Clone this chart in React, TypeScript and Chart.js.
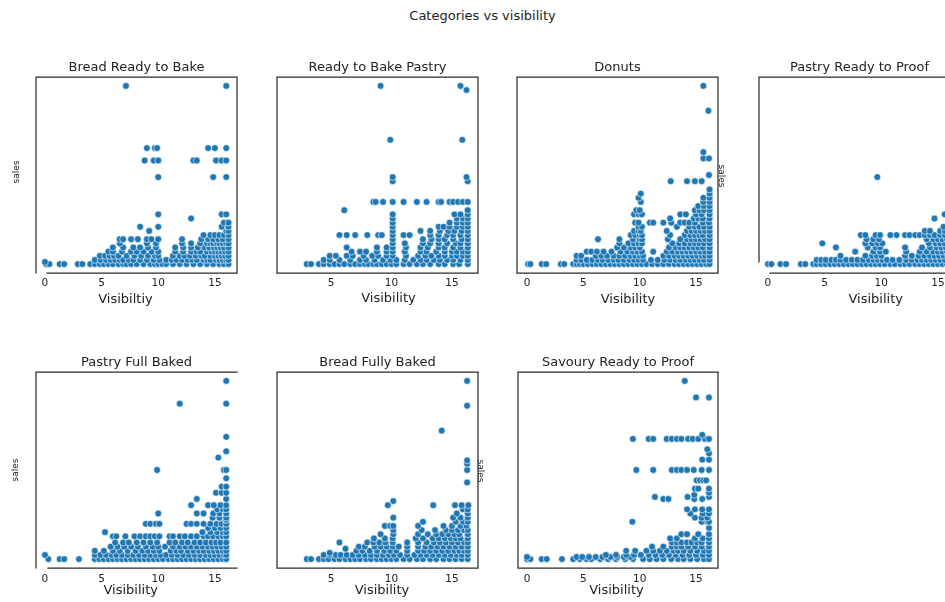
import { useEffect, useRef } from "react";
import { Chart, registerables } from "chart.js";
import type { Plugin } from "chart.js";

Chart.register(...registerables);

// Each row: [sales, visibility values recorded at that sales level]
type Row = [number, number[]];

const figureTitle = "Categories vs visibility";
const categories = [
  "Bread Ready to Bake",
  "Ready to Bake Pastry",
  "Donuts",
  "Pastry Ready to Proof",
  "Pastry Full Baked",
  "Bread Fully Baked",
  "Savoury Ready to Proof",
];
const xAxisTitles = ["Visibiltiy", "Visibility", "Visibility", "Visibility", "Visibility", "Visibility", "Visibility"];
const yAxisTitle = "sales";
const visibilityTicks = [0, 5, 10, 15];
const salesRange = [-1.15, 46.15];

const breadReadyToBake: Row[] = [
  [1, [0.1, 0.4, 1.3, 1.7, 2.9, 3.3, 4.0, 4.4, 4.85, 5.2, 5.6, 6.0, 6.5, 6.9, 7.2, 7.6, 8.1, 8.7, 9.3, 9.7, 10.0, 10.35, 10.7, 11.3, 11.9, 12.5, 13.1, 13.7, 14.3, 14.85, 15.4, 15.8, 16.2]],
  [1.5, [0.0]],
  [2, [4.4, 4.9, 5.4, 5.8, 6.2, 6.6, 6.9, 7.4, 7.8, 8.4, 9.0, 9.6, 10.1, 10.7, 11.2, 11.6, 12.1, 12.6, 13.0, 13.4, 14.0, 14.3, 14.6, 15.1, 15.4, 15.7, 16.0, 16.2]],
  [3, [4.85, 5.3, 5.7, 6.1, 6.5, 7.2, 7.9, 8.5, 9.1, 9.7, 10.0, 11.3, 11.9, 12.3, 12.8, 13.3, 13.8, 14.1, 14.6, 15.0, 15.3, 15.6, 15.9, 16.2]],
  [4, [5.6, 6.0, 6.8, 7.6, 8.1, 8.7, 9.4, 10.0, 11.5, 12.2, 12.9, 13.4, 13.7, 14.3, 14.7, 15.0, 15.3, 15.6, 15.9, 16.2]],
  [5, [6.0, 6.9, 7.8, 8.4, 9.1, 9.8, 11.5, 12.2, 12.9, 13.5, 14.1, 14.5, 14.9, 15.2, 15.5, 15.8, 16.2]],
  [6, [6.6, 9.0, 9.8, 12.1, 12.9, 13.7, 14.3, 14.6, 14.85, 15.2, 15.4, 15.7, 16.0, 16.2]],
  [7, [6.6, 6.9, 7.6, 8.2, 9.0, 9.4, 10.0, 12.1, 13.8, 14.4, 14.85, 15.3, 15.7, 16.2]],
  [8, [14.0, 14.6, 15.0, 15.4, 15.8, 16.2]],
  [9, [9.2, 16.0, 16.2]],
  [10, [8.4, 10.0, 15.6, 16.2]],
  [11, [15.8, 16.2]],
  [12, [12.9]],
  [13, [10.0, 15.6, 16.0]],
  [22, [10.0, 14.85, 16.0]],
  [26, [8.8, 9.6, 10.0, 13.1, 13.4, 15.1, 15.6, 16.0]],
  [29, [9.0, 9.7, 9.9, 14.4, 15.0, 16.0]],
  [44, [7.15, 16.0]],
];

const readyToBakePastry: Row[] = [
  [1, [3.0, 3.35, 4.0, 4.4, 4.9, 5.3, 5.7, 6.1, 6.6, 7.0, 7.4, 7.8, 8.1, 8.5, 8.8, 9.2, 9.6, 10.0, 10.4, 11.0, 11.5, 12.1, 12.6, 13.2, 13.9, 14.4, 15.1, 15.6, 16.3]],
  [2, [4.4, 4.9, 5.7, 6.6, 7.4, 7.9, 8.6, 9.3, 9.9, 10.4, 11.1, 11.8, 12.4, 12.9, 13.5, 14.0, 14.6, 15.1, 15.7, 16.3]],
  [3, [4.9, 5.4, 6.3, 6.8, 7.7, 8.4, 8.9, 9.6, 10.1, 11.2, 12.2, 12.8, 13.3, 13.9, 14.4, 15.0, 15.4, 15.9, 16.3]],
  [4, [6.7, 7.4, 7.9, 8.8, 9.6, 10.1, 11.1, 12.4, 12.9, 13.7, 14.4, 15.0, 15.4, 15.9, 16.3]],
  [5, [6.3, 8.8, 9.6, 10.1, 11.2, 12.4, 13.0, 13.9, 14.4, 15.1, 15.7, 16.3]],
  [6, [10.1, 11.1, 12.6, 13.2, 13.9, 14.6, 15.3, 15.7, 16.3]],
  [7, [10.1, 12.6, 13.3, 13.9, 14.4, 15.1, 15.8, 16.3]],
  [8, [5.7, 6.3, 7.0, 8.0, 8.9, 9.2, 10.1, 11.0, 11.5, 13.2, 13.9, 14.6, 15.1, 15.7, 16.3]],
  [9, [10.1, 12.4, 13.2, 14.0, 14.7, 15.2, 15.8, 16.3]],
  [10, [10.1, 13.9, 14.3, 14.8, 15.4, 15.9, 16.3]],
  [11, [10.1, 14.8, 15.4, 15.9, 16.3]],
  [12, [10.1, 15.4, 15.9, 16.3]],
  [13, [10.1, 15.2, 15.7, 16.3]],
  [14, [6.1, 16.3]],
  [16, [8.5, 8.7, 9.3, 10.1, 11.0, 12.1, 12.9, 13.9, 14.1, 14.8, 15.1, 15.5, 15.9, 16.3]],
  [21, [10.1, 16.3]],
  [22, [10.1, 16.2]],
  [31, [9.9, 15.85]],
  [43, [16.2]],
  [44, [9.1, 15.7]],
];

const donuts: Row[] = [
  [1, [0.1, 0.3, 1.3, 1.7, 3.0, 3.3, 4.1, 4.4, 4.7, 5.0, 5.4, 5.8, 6.2, 6.6, 7.0, 7.4, 7.8, 8.2, 8.6, 9.0, 9.4, 9.8, 10.2, 10.6, 11.1, 11.6, 12.1, 12.6, 13.1, 13.5, 13.9, 14.3, 14.7, 15.1, 15.5, 15.9, 16.2]],
  [2, [4.4, 4.8, 5.3, 5.8, 6.3, 6.7, 7.2, 7.7, 8.1, 8.6, 9.1, 9.5, 9.9, 10.3, 11.0, 11.6, 12.2, 12.7, 13.2, 13.6, 14.1, 14.5, 14.9, 15.3, 15.7, 16.2]],
  [3, [4.4, 4.8, 6.1, 6.6, 7.1, 7.7, 8.2, 8.7, 9.2, 9.6, 10.0, 10.3, 12.1, 12.6, 13.1, 13.5, 13.9, 14.3, 14.7, 15.1, 15.5, 15.8, 16.2]],
  [4, [5.3, 5.7, 6.2, 6.8, 7.5, 8.3, 8.9, 9.4, 9.8, 10.2, 11.2, 12.4, 12.9, 13.4, 13.8, 14.2, 14.6, 15.0, 15.4, 15.8, 16.2]],
  [5, [8.0, 8.6, 9.2, 9.6, 10.0, 12.6, 13.2, 13.6, 14.0, 14.4, 14.8, 15.2, 15.6, 16.2]],
  [6, [8.2, 9.0, 9.5, 9.9, 10.2, 12.9, 13.5, 14.0, 14.5, 14.9, 15.3, 15.7, 16.2]],
  [7, [6.3, 8.2, 9.4, 10.0, 10.2, 12.5, 13.6, 14.2, 14.6, 15.0, 15.4, 15.8, 16.2]],
  [8, [9.2, 9.6, 10.0, 10.2, 12.7, 14.0, 14.5, 14.9, 15.3, 15.6, 16.2]],
  [9, [9.5, 9.9, 10.1, 12.4, 14.2, 14.6, 15.0, 15.4, 15.8, 16.2]],
  [10, [9.9, 10.2, 13.3, 14.4, 14.9, 15.3, 15.7, 16.2]],
  [11, [9.6, 9.9, 10.9, 11.2, 12.1, 12.8, 13.6, 14.0, 14.4, 14.9, 15.6, 16.15]],
  [12, [12.7, 14.8, 15.2, 15.6, 16.2]],
  [13, [9.5, 9.9, 10.2, 13.6, 14.1, 15.0, 15.5, 16.2]],
  [14, [9.7, 10.0, 14.9, 15.3, 15.7, 16.2]],
  [15, [15.2, 15.7, 16.2]],
  [16, [10.1, 15.65, 16.2]],
  [17, [9.9, 15.65, 16.2]],
  [18, [10.1, 16.2]],
  [19, [16.2]],
  [21, [12.75, 14.2, 14.9, 15.5]],
  [22.5, [16.15]],
  [26.5, [15.65, 16.15]],
  [28, [15.65]],
  [38, [16.1]],
  [44, [15.65]],
];

const pastryReadyToProof: Row[] = [
  [1, [0.0, 0.3, 1.1, 1.6, 2.9, 3.3, 4.0, 4.3, 4.7, 5.1, 5.5, 5.9, 6.3, 6.7, 7.1, 7.5, 7.9, 8.3, 8.7, 9.1, 9.5, 9.9, 10.3, 10.8, 11.2, 11.7, 12.1, 12.5, 13.0, 13.4, 13.8, 14.2, 14.6, 15.0, 15.4, 15.8, 16.2]],
  [2, [4.3, 4.7, 5.1, 5.6, 6.0, 6.4, 6.9, 7.4, 7.9, 8.4, 8.9, 9.3, 9.7, 10.1, 10.5, 11.0, 11.6, 12.2, 12.7, 13.2, 13.6, 14.0, 14.4, 14.8, 15.2, 15.6, 16.0]],
  [3, [6.4, 8.6, 9.2, 9.6, 10.0, 12.1, 12.7, 13.3, 13.8, 14.3, 14.7, 15.1, 15.5, 15.9]],
  [4, [7.7, 9.3, 9.9, 10.4, 12.2, 13.4, 14.0, 14.6, 15.0, 15.4, 15.8]],
  [5, [6.0, 8.8, 9.5, 9.9, 12.1, 13.6, 14.3, 14.9, 15.3, 15.7, 16.1]],
  [6, [4.8, 8.6, 9.2, 9.7, 10.1, 14.2, 14.8, 15.2, 15.6, 16.0]],
  [7, [8.7, 9.3, 9.8, 14.0, 14.6, 15.0, 15.4, 15.8]],
  [8, [8.2, 8.6, 9.5, 9.9, 10.8, 11.35, 12.1, 12.5, 13.0, 13.4, 13.85, 14.3, 14.7, 15.2, 15.6, 16.0]],
  [9, [13.85, 14.3, 15.2, 15.6, 16.1]],
  [10, [15.5, 16.0]],
  [11, [16.2]],
  [12, [14.7]],
  [13, [15.6]],
  [22, [9.65]],
];

const pastryFullBaked: Row[] = [
  [1, [0.3, 1.3, 1.7, 3.0, 4.4, 4.8, 5.2, 5.6, 6.0, 6.4, 6.8, 7.2, 7.6, 8.0, 8.4, 8.8, 9.2, 9.6, 10.0, 10.4, 10.9, 11.3, 11.7, 12.1, 12.5, 12.9, 13.3, 13.7, 14.1, 14.5, 14.9, 15.3, 15.7, 16.0]],
  [2, [0.0, 4.4, 4.9, 5.4, 5.9, 6.3, 6.8, 7.3, 7.8, 8.3, 8.8, 9.3, 9.8, 10.2, 10.7, 11.2, 11.7, 12.2, 12.7, 13.2, 13.7, 14.2, 14.6, 15.0, 15.4, 15.8, 16.0]],
  [3, [4.4, 5.2, 6.0, 6.6, 7.3, 8.0, 8.6, 9.1, 9.6, 10.1, 11.1, 11.6, 12.0, 12.6, 13.1, 13.6, 14.0, 14.5, 14.9, 15.3, 15.7, 16.0]],
  [4, [5.8, 6.4, 7.0, 7.6, 8.2, 8.9, 9.5, 10.0, 10.6, 11.3, 11.9, 12.4, 12.9, 13.4, 13.9, 14.4, 14.8, 15.2, 15.6, 16.0]],
  [5, [6.2, 6.9, 7.4, 8.1, 8.7, 9.3, 9.9, 11.0, 11.5, 12.1, 12.6, 13.2, 13.7, 14.2, 14.7, 15.1, 15.5, 16.0]],
  [6.5, [6.0, 6.3, 7.1, 7.9, 8.4, 8.9, 9.3, 9.7, 10.1, 11.0, 11.3, 11.9, 12.35, 12.9, 13.4, 14.0, 14.4, 14.85, 15.3, 15.7, 16.0]],
  [7.5, [5.3, 13.9, 14.6, 15.2, 15.7, 16.0]],
  [8.5, [14.4, 15.0, 15.5, 16.0]],
  [9.5, [8.9, 9.3, 9.8, 10.1, 12.5, 12.9, 13.4, 14.0, 14.6, 15.15, 15.6, 16.0]],
  [10.5, [15.9, 16.0]],
  [11, [14.8, 15.4, 16.0]],
  [12, [10.0, 13.4, 14.0, 14.85, 15.4, 16.0]],
  [13, [15.2, 15.7, 16.0]],
  [14, [12.9, 14.4, 14.9, 15.5, 16.0]],
  [15.5, [13.4, 16.0]],
  [17, [15.1, 15.6, 16.0]],
  [18.5, [15.6, 16.0]],
  [20.5, [16.0]],
  [22.5, [9.9, 15.8, 16.0]],
  [25.5, [15.3]],
  [27, [16.0]],
  [30.5, [16.0]],
  [38.5, [11.9, 16.0]],
  [44, [16.0]],
];

const breadFullyBaked: Row[] = [
  [1, [3.0, 3.35, 4.0, 4.4, 4.8, 5.3, 5.7, 6.2, 6.6, 7.0, 7.4, 7.9, 8.3, 8.8, 9.2, 9.6, 10.0, 10.4, 11.0, 11.5, 12.1, 12.6, 13.2, 13.7, 14.3, 14.8, 15.3, 15.8, 16.3]],
  [2, [4.4, 4.9, 5.4, 5.8, 6.3, 6.8, 7.3, 7.8, 8.3, 8.8, 9.3, 9.8, 10.2, 10.7, 11.3, 11.9, 12.4, 12.9, 13.4, 13.9, 14.4, 14.9, 15.4, 15.8, 16.3]],
  [2.5, [4.9]],
  [3, [7.1, 7.6, 8.2, 8.8, 9.4, 9.9, 10.4, 11.3, 12.2, 12.7, 13.2, 13.7, 14.2, 14.7, 15.2, 15.6, 16.0, 16.3]],
  [3.5, [6.2]],
  [4, [7.3, 7.8, 8.6, 9.1, 9.6, 10.1, 10.6, 11.3, 12.2, 12.8, 13.3, 13.8, 14.3, 14.8, 15.3, 15.8, 16.3]],
  [5, [5.7, 8.0, 8.5, 9.0, 9.5, 10.1, 11.3, 12.2, 12.9, 13.5, 14.0, 14.5, 15.0, 15.5, 16.0, 16.3]],
  [6, [8.55, 9.45, 10.1, 12.0, 12.6, 13.4, 13.9, 14.4, 14.9, 15.3, 15.7, 16.3]],
  [7, [9.1, 10.15, 12.2, 13.0, 13.7, 14.2, 14.7, 15.2, 15.6, 16.3]],
  [8, [10.15, 12.5, 13.6, 14.5, 15.0, 15.5, 16.0, 16.3]],
  [9, [9.45, 9.9, 10.15, 12.2, 14.3, 15.0, 15.7, 16.2]],
  [10, [12.6, 15.3, 15.9, 16.3]],
  [11, [10.15, 15.1, 15.7, 16.3]],
  [12, [15.4, 16.3]],
  [13, [15.9, 16.3]],
  [14, [9.7, 13.45, 15.25, 15.8, 16.35]],
  [15, [10.15]],
  [19.5, [16.25]],
  [22.5, [16.25]],
  [24, [16.25]],
  [24.8, [16.25]],
  [32, [14.15]],
  [38, [16.25]],
  [44, [16.25]],
];

const savouryReadyToProof: Row[] = [
  [1, [0.0, 0.3, 1.3, 1.75, 3.1, 4.1, 4.7, 5.3, 5.7, 6.5, 7.2, 7.9, 8.7, 9.4, 10.3, 10.9, 11.5, 12.1, 12.8, 13.4, 13.9, 14.5, 15.1, 15.7, 16.15]],
  [1.5, [0.0, 4.4, 4.9, 5.5, 6.1, 6.7, 7.4, 8.0, 8.6, 9.2]],
  [2, [7.0, 7.9, 8.8, 9.5, 10.1, 10.8, 11.4, 12.0, 12.6, 13.2, 13.8, 14.4, 15.0, 15.6, 16.15]],
  [3, [8.8, 9.6, 10.6, 11.2, 11.8, 12.4, 13.0, 13.4, 13.9, 14.5, 15.1, 15.7, 16.15]],
  [4, [11.1, 12.1, 12.85, 13.3, 13.7, 14.3, 14.9, 15.5, 16.15]],
  [5, [12.85, 13.3, 13.7, 14.2, 14.6, 15.1, 15.5, 16.15]],
  [6, [12.7, 13.3, 14.9, 15.6, 16.15]],
  [7, [13.7, 14.2, 15.2, 16.15]],
  [8.5, [16.15]],
  [10, [9.35, 15.5, 16.0, 16.15]],
  [11, [14.9, 15.5, 16.0]],
  [12, [14.5, 15.6, 16.15]],
  [13, [14.2, 14.9, 15.55, 16.15]],
  [15.5, [12.1, 12.55, 14.85, 15.55]],
  [16, [11.35, 14.25, 16.15]],
  [16.5, [14.85]],
  [17, [16.15]],
  [18, [14.9, 15.2, 16.15]],
  [20, [15.05, 15.35, 15.65, 15.9]],
  [22.5, [9.7, 11.2, 12.85, 13.3, 13.7, 14.2, 14.8, 15.5, 16.15]],
  [25, [15.55, 16.15]],
  [26.5, [16.15]],
  [27.5, [16.0]],
  [30, [9.4, 10.8, 11.2, 12.4, 12.85, 13.3, 13.7, 14.3, 14.7, 15.2, 15.8, 16.15]],
  [31, [15.55]],
  [40, [15.0, 16.15]],
  [44, [14.0]],
];

const seriesByCategory: Row[][] = [
  breadReadyToBake,
  readyToBakePastry,
  donuts,
  pastryReadyToProof,
  pastryFullBaked,
  breadFullyBaked,
  savouryReadyToProof,
];

// ---- layout & styling ----
const CANVAS_W = 1000;
const CANVAS_H = 640;
const AXIS_H = 36;
const FONT = "'DejaVu Sans', 'Liberation Sans', sans-serif";
const TEXT = "#222222";
const SPINE = "#2b2b2b";
const POINT = "#1f77b4";

interface Spines {
  left: boolean;
  top: boolean;
  right: boolean;
  bottom: boolean;
  bottomInset: number;
  leftShort: number;
}
interface SideLabel {
  dx: number;
  dy: number;
  rot: number;
}
interface PanelLayout {
  left: number;
  top: number;
  right: number;
  bottom: number;
  xMin: number;
  xMax: number;
  tickPad: number;
  // x-axis title anchor: centre offset from the plot's left edge, baseline offset below the plot
  xTitleDx: number;
  xTitleDy: number;
  spines: Spines;
  sideLabels: SideLabel[];
}

const box: Spines = { left: true, top: true, right: true, bottom: true, bottomInset: 0, leftShort: 0 };

const panels: PanelLayout[] = [
  { left: 36, top: 77, right: 237, bottom: 273, xMin: -0.79, xMax: 16.95, tickPad: 3.7, xTitleDx: 89.5, xTitleDy: 30,
    spines: { ...box, bottomInset: 11 }, sideLabels: [{ dx: -19, dy: 95, rot: -90 }] },
  { left: 277, top: 77, right: 478, bottom: 273, xMin: 0.54, xMax: 17.15, tickPad: 3.7, xTitleDx: 111.5, xTitleDy: 29,
    spines: box, sideLabels: [] },
  { left: 517, top: 77, right: 718, bottom: 273, xMin: -0.89, xMax: 16.95, tickPad: 3.7, xTitleDx: 111, xTitleDy: 30,
    spines: box, sideLabels: [{ dx: 204, dy: 99, rot: 90 }] },
  { left: 759, top: 77, right: 960, bottom: 273, xMin: -0.79, xMax: 16.95, tickPad: 3.7, xTitleDx: 116.7, xTitleDy: 30,
    spines: { ...box, right: false, bottomInset: 11, leftShort: 11 }, sideLabels: [] },
  { left: 36, top: 372, right: 237, bottom: 568, xMin: -0.79, xMax: 16.95, tickPad: 4.7, xTitleDx: 94.7, xTitleDy: 26,
    spines: { ...box, right: false, bottomInset: 12 }, sideLabels: [{ dx: -20, dy: 98, rot: -90 }] },
  { left: 277, top: 372, right: 478, bottom: 568, xMin: 0.54, xMax: 17.15, tickPad: 4.7, xTitleDx: 105, xTitleDy: 26,
    spines: box, sideLabels: [{ dx: 203.5, dy: 99, rot: 90 }] },
  { left: 518, top: 372, right: 718, bottom: 568, xMin: -0.8, xMax: 16.95, tickPad: 4.7, xTitleDx: 98.5, xTitleDy: 26,
    spines: box, sideLabels: [] },
];

function decorPlugin(index: number): Plugin<"scatter"> {
  const p = panels[index];
  return {
    id: "panelDecor" + index,
    afterDraw(chart) {
      const { ctx, chartArea: a } = chart;
      const s = p.spines;
      ctx.save();
      ctx.strokeStyle = SPINE;
      ctx.lineWidth = 1.25;
      ctx.beginPath();
      if (s.left) {
        ctx.moveTo(a.left, a.top - 0.6);
        ctx.lineTo(a.left, a.bottom - s.leftShort + 0.6);
      }
      if (s.top) {
        ctx.moveTo(a.left - 0.6, a.top);
        ctx.lineTo(a.right + 0.6, a.top);
      }
      if (s.right) {
        ctx.moveTo(a.right, a.top - 0.6);
        ctx.lineTo(a.right, a.bottom + 0.6);
      }
      if (s.bottom) {
        ctx.moveTo(a.left + s.bottomInset - 0.6, a.bottom);
        ctx.lineTo(a.right + 0.6, a.bottom);
      }
      ctx.stroke();

      ctx.fillStyle = TEXT;
      ctx.textAlign = "center";
      ctx.textBaseline = "middle";
      ctx.font = `13px ${FONT}`;
      ctx.fillText(categories[index], (a.left + a.right) / 2, a.top - 9.5);

      ctx.textBaseline = "alphabetic";
      ctx.fillText(xAxisTitles[index], a.left + p.xTitleDx, a.bottom + p.xTitleDy);

      ctx.textBaseline = "middle";
      ctx.font = `9px ${FONT}`;
      for (const l of p.sideLabels) {
        ctx.save();
        ctx.translate(a.left + l.dx, a.top + l.dy);
        ctx.rotate((l.rot * Math.PI) / 180);
        ctx.fillText(yAxisTitle, 0, 0);
        ctx.restore();
      }
      ctx.restore();
    },
  };
}

function Panel({ index }: { index: number }) {
  const ref = useRef<HTMLCanvasElement | null>(null);

  useEffect(() => {
    const canvas = ref.current;
    if (!canvas) return;
    const p = panels[index];
    const points = seriesByCategory[index].flatMap(([sales, xs]) => xs.map((x) => ({ x, y: sales })));

    const chart = new Chart(canvas, {
      type: "scatter",
      data: {
        datasets: [
          {
            label: categories[index],
            data: points,
            pointRadius: 3.4,
            pointBorderWidth: 0.6,
            pointBackgroundColor: POINT,
            pointBorderColor: "#ffffff",
          },
        ],
      },
      options: {
        responsive: false,
        animation: false,
        devicePixelRatio: 1,
        events: [],
        layout: {
          padding: {
            left: p.left,
            top: p.top,
            right: CANVAS_W - p.right,
            bottom: CANVAS_H - p.bottom - AXIS_H,
          },
        },
        plugins: { legend: { display: false }, tooltip: { enabled: false }, title: { display: false } },
        scales: {
          x: {
            type: "linear",
            position: "bottom",
            min: p.xMin,
            max: p.xMax,
            grid: { display: false, drawTicks: false },
            border: { display: false },
            ticks: {
              padding: p.tickPad,
              color: TEXT,
              font: { family: FONT, size: 10.5 },
              maxRotation: 0,
              autoSkip: false,
            },
            title: { display: false },
            afterBuildTicks: (scale) => {
              scale.ticks = visibilityTicks
                .filter((v) => v >= scale.min && v <= scale.max)
                .map((v) => ({ value: v }));
            },
            afterFit: (scale) => {
              scale.height = AXIS_H;
            },
          },
          y: {
            type: "linear",
            display: false,
            min: salesRange[0],
            max: salesRange[1],
          },
        },
      },
      plugins: [decorPlugin(index)],
    });
    return () => chart.destroy();
  }, [index]);

  return (
    <canvas
      ref={ref}
      width={CANVAS_W}
      height={CANVAS_H}
      style={{ position: "absolute", left: 0, top: 0, width: CANVAS_W, height: CANVAS_H, pointerEvents: "none" }}
    />
  );
}

export default function App() {
  return (
    <div
      style={{
        position: "fixed",
        left: 0,
        top: 0,
        width: 945,
        height: 602,
        overflow: "hidden",
        background: "#ffffff",
      }}
    >
      <div
        style={{
          position: "absolute",
          left: 482.5,
          top: 7,
          transform: "translateX(-50%)",
          whiteSpace: "nowrap",
          font: `13px ${FONT}`,
          lineHeight: "17px",
          color: TEXT,
        }}
      >
        {figureTitle}
      </div>
      {categories.map((_, i) => (
        <Panel key={i} index={i} />
      ))}
    </div>
  );
}
